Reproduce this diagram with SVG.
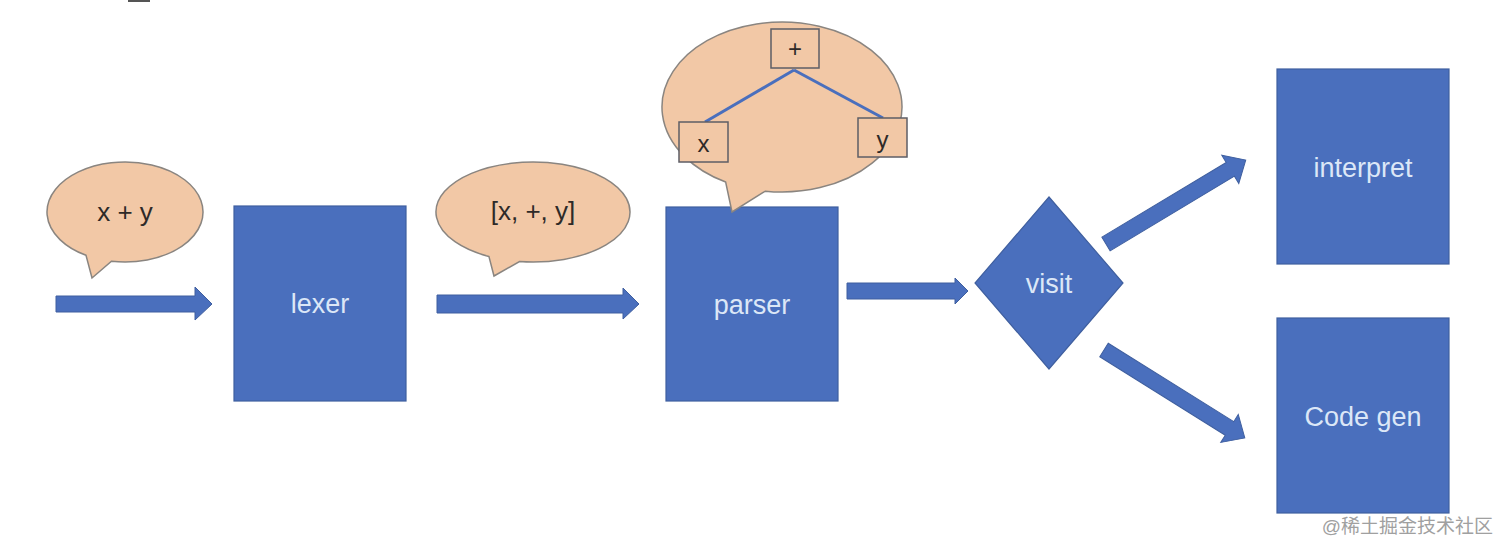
<svg xmlns="http://www.w3.org/2000/svg" width="1512" height="553" viewBox="0 0 1512 553">
  <style>
    .box { fill: #4A6FBD; stroke: #3F5F9F; stroke-width: 1.2; }
    .lbl { font-family: "Liberation Sans", "Noto Sans", sans-serif; font-size: 27px; fill: #DCE7F7; text-anchor: middle; dominant-baseline: central; }
    .bubble { fill: #F2C8A6; stroke: #8A8580; stroke-width: 1.5; }
    .btxt { font-family: "Liberation Sans", "Noto Sans", sans-serif; font-size: 26px; fill: #2E2A28; text-anchor: middle; dominant-baseline: central; }
    .tnode { fill: #F2C8A6; stroke: #5E5E66; stroke-width: 1.5; }
    .tedge { stroke: #4A6FBD; stroke-width: 3; fill: none; }
    .arrow { fill: #4A6FBD; stroke: #3F5F9F; stroke-width: 1; }
  </style>
  <rect x="0" y="0" width="1512" height="553" fill="#FFFFFF"/>
  <rect x="128" y="0" width="22" height="2" fill="#555555"/>

  <g id="connectors">
    <path class="arrow" d="M56,296 L195,296 L195,287 L212,304 L195,320 L195,312 L56,312 Z"/>
    <path class="arrow" d="M437,295 L623,295 L623,288 L639,304 L623,319 L623,313 L437,313 Z"/>
    <path class="arrow" d="M847,283 L955,283 L955,278 L968,291 L955,304 L955,299 L847,299 Z"/>
    <path class="arrow" transform="translate(1106,244) rotate(-31)" d="M0,-8 L145,-8 L145,-16.5 L163,0 L145,16.5 L145,8 L0,8 Z"/>
    <path class="arrow" transform="translate(1104,350) rotate(32)" d="M0,-8 L148,-8 L148,-16.5 L166,0 L148,16.5 L148,8 L0,8 Z"/>
  </g>

  <g id="bubble-source">
    <path class="bubble" d="M86,255.3 A78,50 0 1 1 111.46,261.24 L92,278 Z"/>
    <text class="btxt" x="125" y="212">x + y</text>
  </g>

  <g id="lexer">
    <rect class="box" x="234" y="206" width="172" height="195"/>
    <text class="lbl" x="320" y="304">lexer</text>
  </g>

  <g id="bubble-tokens">
    <path class="bubble" d="M488.96,256.55 A97,50 0 1 1 519.5,261.51 L494,276 Z"/>
    <text class="btxt" x="533" y="211">[x, +, y]</text>
  </g>

  <g id="parser">
    <rect class="box" x="666" y="207" width="172" height="194"/>
    <text class="lbl" x="752" y="305">parser</text>
  </g>

  <g id="bubble-ast">
    <path class="bubble" d="M725.66,182.05 A120,85 0 1 1 765.3,191.17 L732,212 Z"/>
    <line class="tedge" x1="794" y1="70" x2="705" y2="122"/>
    <line class="tedge" x1="794" y1="70" x2="883" y2="118"/>
    <g id="ast-plus">
      <rect class="tnode" x="771" y="29" width="48" height="39"/>
      <text class="btxt" x="795" y="48" style="font-size:24px">+</text>
    </g>
    <g id="ast-x">
      <rect class="tnode" x="679" y="122" width="49" height="40"/>
      <text class="btxt" x="703.5" y="143" style="font-size:24px">x</text>
    </g>
    <g id="ast-y">
      <rect class="tnode" x="858" y="118" width="49" height="39"/>
      <text class="btxt" x="882.5" y="139" style="font-size:24px">y</text>
    </g>
  </g>

  <g id="visit">
    <polygon class="box" points="1049,197 1123,283 1049,369 975,283"/>
    <text class="lbl" x="1049" y="284">visit</text>
  </g>

  <g id="interpret">
    <rect class="box" x="1277" y="69" width="172" height="195"/>
    <text class="lbl" x="1363" y="168">interpret</text>
  </g>

  <g id="codegen">
    <rect class="box" x="1277" y="318" width="172" height="195"/>
    <text class="lbl" x="1363" y="417">Code gen</text>
  </g>

  <text x="1493" y="526" text-anchor="end" dominant-baseline="central" style="font-family:'Liberation Sans','Noto Sans CJK SC',sans-serif;font-size:19px;fill:#A0A0A0">@稀土掘金技术社区</text>
</svg>
